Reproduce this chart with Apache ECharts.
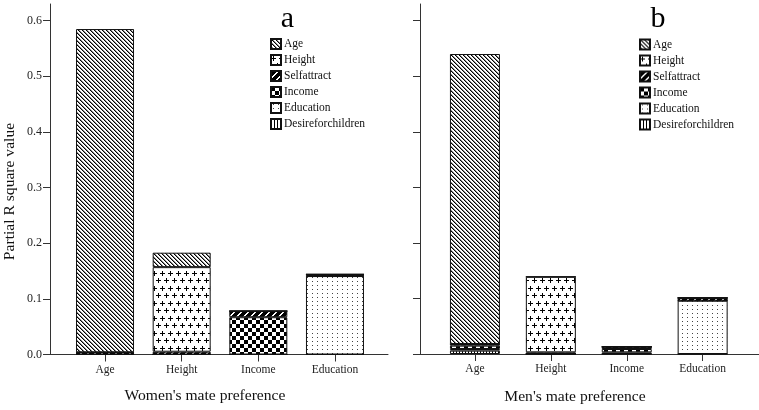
<!DOCTYPE html>
<html><head><meta charset="utf-8">
<script src="https://cdn.jsdelivr.net/npm/echarts@6/dist/echarts.min.js"></script>
<style>html,body{margin:0;padding:0;background:#fff}#c{width:759px;height:410px}</style>
</head><body><div id="c"></div>
<script>
// ---- data ----
const categories = ['Age', 'Height', 'Income', 'Education'];
const variables = ['Age', 'Height', 'Selfattract', 'Income', 'Education', 'Desireforchildren'];
const stackOrder = ['Desireforchildren', 'Education', 'Income', 'Selfattract', 'Height', 'Age'];
const yTicks = [0, 0.1, 0.2, 0.3, 0.4, 0.5, 0.6];
const yMax = 0.63;

// Women's mate preference (panel a), values per category [Age, Height, Income, Education]
const womenAge = [0.581, 0.026, 0, 0];
const womenHeight = [0, 0.152, 0, 0];
const womenSelfattract = [0.004, 0.005, 0.011, 0.003];
const womenIncome = [0, 0, 0.067, 0];
const womenEducation = [0, 0, 0, 0.141];
const womenDesireforchildren = [0, 0, 0, 0];

// Men's mate preference (panel b)
const menAge = [0.522, 0, 0, 0];
const menHeight = [0, 0.136, 0, 0];
const menSelfattract = [0.003, 0.003, 0.004, 0.005];
const menIncome = [0.006, 0, 0.006, 0];
const menEducation = [0.003, 0, 0.003, 0.096];
const menDesireforchildren = [0.006, 0, 0, 0];

const panelTitles = ["Women's mate preference", "Men's mate preference"];
const yAxisTitle = 'Partial R square value';
const panelLetters = ['a', 'b'];

// ---- patterns ----
function tile(w, h, draw) {
  const c = document.createElement('canvas');
  c.width = w; c.height = h;
  const g = c.getContext('2d');
  g.fillStyle = '#fff'; g.fillRect(0, 0, w, h);
  draw(g);
  return { image: c, repeat: 'repeat' };
}
const patterns = {
  Age: tile(4, 4, g => {
    for (let i = 0; i < 4; i++) {
      g.fillStyle = '#000'; g.fillRect(i, i, 1, 1);
      g.fillStyle = '#888'; g.fillRect((i + 1) % 4, i, 1, 1);
    }
  }),
  Height: tile(8, 15, g => {
    g.fillStyle = '#000';
    g.fillRect(0, 3, 5, 1); g.fillRect(2, 1, 1, 5);
    g.fillRect(4, 10, 4, 1); g.fillRect(0, 10, 1, 1); g.fillRect(6, 8, 1, 5);
  }),
  Selfattract: tile(7, 7, g => {
    g.fillStyle = '#000'; g.fillRect(0, 0, 7, 7);
    g.fillStyle = '#fff';
    for (let i = 0; i < 7; i++) { g.fillRect((13 - i) % 7, i, 1, 1); g.fillRect((14 - i) % 7, i, 1, 1); }
  }),
  Income: tile(8, 8, g => {
    g.fillStyle = '#000'; g.fillRect(0, 0, 4, 4); g.fillRect(4, 4, 4, 4);
  }),
  Education: tile(5, 4, g => {
    g.fillStyle = '#444'; g.fillRect(2, 1, 1, 1);
  }),
  Desireforchildren: tile(3, 1, g => {
    g.fillStyle = '#000'; g.fillRect(0, 0, 1, 1);
  })
};

const womenData = {
  Age: womenAge, Height: womenHeight, Selfattract: womenSelfattract,
  Income: womenIncome, Education: womenEducation, Desireforchildren: womenDesireforchildren
};
const menData = {
  Age: menAge, Height: menHeight, Selfattract: menSelfattract,
  Income: menIncome, Education: menEducation, Desireforchildren: menDesireforchildren
};

const FONT = 'Liberation Serif';
const AX = '#333';

function buildSeries(data, xi, yi, stack, bw) {
  return stackOrder.map(name => ({
    name, type: 'bar', stack, xAxisIndex: xi, yAxisIndex: yi, barWidth: bw,
    data: data[name],
    itemStyle: { color: patterns[name], borderColor: '#111', borderWidth: 1 },
    emphasis: { disabled: true }
  }));
}

function outerX(gi) {
  return { gridIndex: gi, type: 'value', min: 0, max: 1,
    axisLine: { show: true, lineStyle: { color: AX, width: 1 } },
    axisTick: { show: false }, axisLabel: { show: false }, splitLine: { show: false } };
}
function outerY(gi, showLabels) {
  return { gridIndex: gi, type: 'value', min: 0, max: yMax,
    axisLine: { show: true, lineStyle: { color: AX, width: 1 } },
    axisTick: { show: true, length: 7, customValues: yTicks, lineStyle: { color: AX } },
    axisLabel: { show: showLabels, customValues: yTicks, margin: 8,
      formatter: v => v.toFixed(1), fontFamily: FONT, fontSize: 12, color: '#222' },
    splitLine: { show: false } };
}
function innerX(gi) {
  return { gridIndex: gi, type: 'category', data: categories,
    axisLine: { show: false },
    axisTick: { show: true, length: 7, alignWithLabel: true, lineStyle: { color: AX } },
    axisLabel: { margin: 9, fontFamily: FONT, fontSize: 11.5, color: '#222' } };
}
function innerY(gi) {
  return { gridIndex: gi, type: 'value', min: 0, max: yMax, show: false, splitLine: { show: false } };
}

const legendBase = {
  orient: 'vertical', itemWidth: 10, itemHeight: 10, itemGap: 4, padding: 0, icon: 'rect',
  data: variables, selectedMode: false,
  textStyle: { fontFamily: FONT, fontSize: 11.5, color: '#111', padding: [0, 0, 0, -2] }
};

const option = {
  animation: false,
  backgroundColor: '#fff',
  grid: [
    { left: 50, top: 4, width: 338, height: 350.5 },
    { left: 66.7, top: 4, width: 306.6, height: 350.5 },
    { left: 420, top: 4, width: 339, height: 350 },
    { left: 437, top: 4, width: 303.6, height: 350 }
  ],
  xAxis: [outerX(0), innerX(1), outerX(2), innerX(3)],
  yAxis: [outerY(0, true), innerY(1), outerY(2, false), innerY(3)],
  legend: [
    Object.assign({}, legendBase, { left: 270, top: 38 }),
    Object.assign({}, legendBase, { left: 639, top: 38.5 })
  ],
  series: [].concat(
    buildSeries(womenData, 1, 1, 'women', 58),
    buildSeries(menData, 3, 3, 'men', 50)
  ),
  graphic: [
    { type: 'text', x: 287.5, y: 19, style: { text: panelLetters[0], font: '30px "' + FONT + '"', fill: '#000', align: 'center', verticalAlign: 'middle' } },
    { type: 'text', x: 658, y: 19, style: { text: panelLetters[1], font: '30px "' + FONT + '"', fill: '#000', align: 'center', verticalAlign: 'middle' } },
    { type: 'text', x: 205, y: 396, style: { text: panelTitles[0], font: '15.6px "' + FONT + '"', fill: '#111', align: 'center', verticalAlign: 'middle' } },
    { type: 'text', x: 575, y: 397, style: { text: panelTitles[1], font: '15.6px "' + FONT + '"', fill: '#111', align: 'center', verticalAlign: 'middle' } },
    { type: 'text', x: 10, y: 191.5, rotation: Math.PI / 2, style: { text: yAxisTitle, font: '15.6px "' + FONT + '"', fill: '#111', align: 'center', verticalAlign: 'middle' } }
  ]
};

const chart = echarts.init(document.getElementById('c'), null, { renderer: 'canvas' });
chart.setOption(option);
</script>
</body></html>
